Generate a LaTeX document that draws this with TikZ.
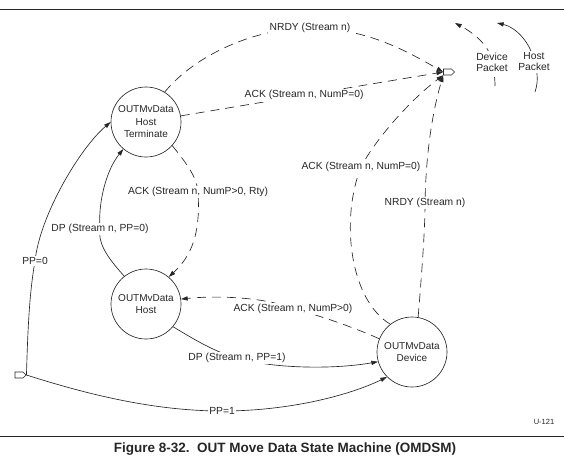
\documentclass[tikz,border=0pt]{standalone}
\usepackage{fontspec}
\setmainfont{Liberation Sans}
\usetikzlibrary{arrows.meta}
\usetikzlibrary{shapes.symbols}

\begin{document}
\begin{tikzpicture}[x=1pt,y=-1pt,line width=0.65pt,color=black!85,
    state/.style={circle,draw,minimum size=70pt,inner sep=0pt,align=center,font=\fontsize{10}{12.5}\selectfont},
    ends/.style={signal,signal to=east,draw,fill=white,minimum width=11pt,minimum height=6pt,inner sep=0pt},
    move/.style={arrows=-{Triangle[angle=35:7pt]}},
    reply/.style={move,dash pattern=on 9pt off 6pt},
    lbl/.style={fill=white,inner sep=1.5pt,align=center,font=\fontsize{10.3}{11}\selectfont}]

    % \draw [help lines] (0,0) grid (564,459);
    \useasboundingbox (0,0) rectangle (564,459);

    \draw[line width=0.8pt] (0,9) -- (564,9);
    \draw[line width=0.8pt] (0,436) -- (564,436);

    \path   (146,122) node (term) [state] {OUTMvData\\Host\\Terminate}
            (146,304) node (host) [state] {OUTMvData\\Host}
            (412,352) node (dev) [state] {OUTMvData\\Device}
            (19,375) node (start) [ends] {}
            (447.5,72) node (done) [ends] {};

    \draw[reply] (term.58) .. controls (195,55) and (255,28) .. (310,28) node[lbl] {NRDY (Stream n)} .. controls (365,28) and (405,50) .. (done.west);
    \draw[reply] (term.10) -- node[lbl,pos=0.47] {ACK (Stream n, NumP=0)} (done.west);
    \draw[reply] (term.-42) .. controls (188,165) and (197,178) .. (198,192) node[lbl] {ACK (Stream n, NumP>0, Rty)} .. controls (200,225) and (196,252) .. (host.50);
    \draw[move] (host.128) .. controls (105,255) and (98,242) .. (100,229) node[lbl] {DP (Stream n, PP=0)} .. controls (98,205) and (105,172) .. (term.-130);
    \draw[move] (start.east) .. controls (28,320) and (30,290) .. (35,261) node[lbl] {PP=0} .. controls (40,215) and (80,148) .. (term.180);
    \draw[move] (start.east) .. controls (80,392) and (150,411) .. (222,411) node[lbl] {PP=1} .. controls (290,411) and (350,395) .. (dev.-135);
    \draw[move] (host.-40) .. controls (195,340) and (215,352) .. (237,358) node[lbl] {DP (Stream n, PP=1)} .. controls (270,368) and (330,370) .. (dev.-164);
    \draw[reply] (dev.158) .. controls (360,330) and (320,315) .. (293,309) node[lbl] {ACK (Stream n, NumP>0)} .. controls (270,298) and (220,295) .. (host.8);
    \draw[reply] (dev.128) .. controls (350,300) and (340,220) .. (361,167) node[lbl] {ACK (Stream n, NumP=0)} .. controls (375,140) and (410,100) .. (done.south west);
    \draw[reply] (dev.80) .. controls (422,270) and (425,230) .. (425,203) node[lbl] {NRDY (Stream n)} .. controls (426,150) and (433,110) .. (done.south west);

    % packet legend
    \coordinate (devtail) at (495,86);
    \coordinate (devhead) at (455,23);
    \coordinate (hosttail) at (535,92);
    \coordinate (hosthead) at (497,23);
    \draw[reply] (devtail) .. controls (495,75) and (493,68) .. (492,62) node[lbl] {Device\\Packet} .. controls (490,45) and (472,32) .. (devhead);
    \draw[move] (hosttail) .. controls (539,80) and (537,70) .. (534,62) node[lbl] {Host\\Packet} .. controls (531,42) and (515,27) .. (hosthead);

    \path   (544,422) node (tag) {\fontsize{7.5}{9}\selectfont U-121}
            (285,449) node (caption) {\bfseries\fontsize{13.5}{15}\selectfont Figure 8-32.~~OUT Move Data State Machine (OMDSM)};

\end{tikzpicture}
\end{document}
